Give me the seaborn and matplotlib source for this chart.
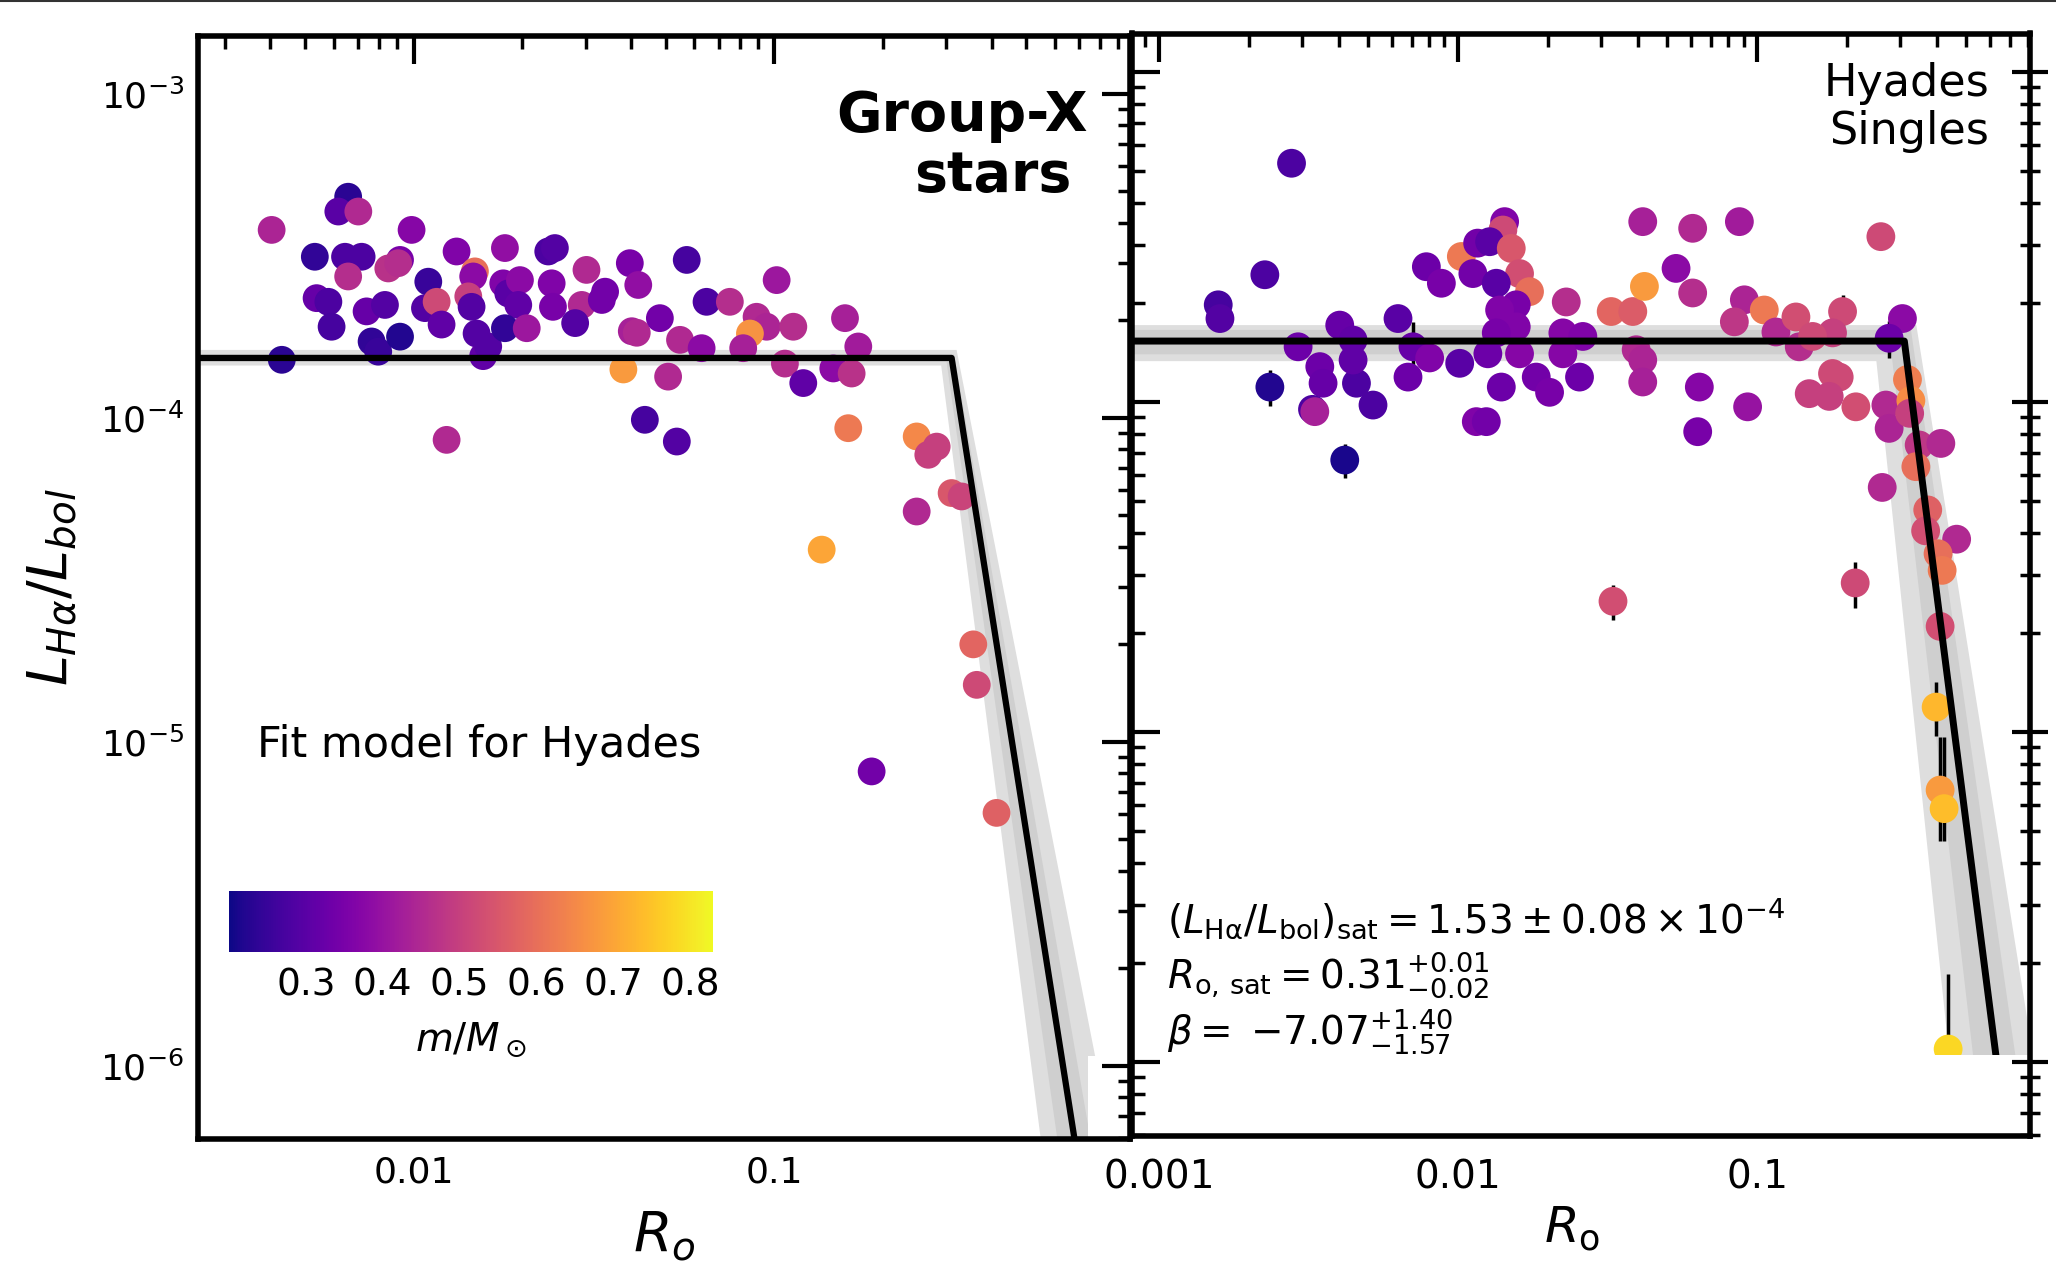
import numpy as np
import pandas as pd
import matplotlib
matplotlib.use("Agg")
import matplotlib.pyplot as plt
import seaborn as sns
from matplotlib.patches import Rectangle
from matplotlib.colors import Normalize
from matplotlib.cm import ScalarMappable
from matplotlib.ticker import LogLocator, NullFormatter, FixedLocator, FixedFormatter
from matplotlib.lines import Line2D

# ---------------- data: Group-X stars ----------------
ro_gx = [0.00403, 0.00657, 0.00617, 0.00701, 0.00985, 0.00531, 0.00644, 0.00716, 0.00657, 0.00915,
         0.00849, 0.00904, 0.00537, 0.00579, 0.00591, 0.00739, 0.00831, 0.00763, 0.00796, 0.00915,
         0.01096, 0.01073, 0.01156, 0.01193, 0.00430, 0.01313, 0.01476, 0.01460, 0.01415, 0.01445,
         0.01492, 0.01556, 0.01607, 0.01788, 0.01769, 0.01827, 0.01968, 0.01947, 0.01788, 0.02055,
         0.02358, 0.02460, 0.02410, 0.02430, 0.01232, 0.03010, 0.02920, 0.02800, 0.03390, 0.03320,
         0.03970, 0.04190, 0.04020, 0.04150, 0.04810, 0.05710, 0.05470, 0.06280, 0.06480, 0.07520,
         0.1014, 0.0892, 0.0951, 0.0855, 0.0819, 0.1128, 0.1569, 0.1708, 0.0381, 0.0507,
         0.1069, 0.1202, 0.1456, 0.1637, 0.0437, 0.0536, 0.1602, 0.248, 0.2818, 0.2671,
         0.310, 0.3305, 0.248, 0.1352, 0.356, 0.364, 0.186, 0.413]
lha_gx = [3.80e-4, 4.81e-4, 4.33e-4, 4.33e-4, 3.80e-4, 3.14e-4, 3.14e-4, 3.14e-4, 2.73e-4, 3.07e-4,
          2.89e-4, 3.00e-4, 2.34e-4, 2.28e-4, 1.91e-4, 2.13e-4, 2.23e-4, 1.72e-4, 1.60e-4, 1.78e-4,
          2.63e-4, 2.18e-4, 2.28e-4, 1.94e-4, 1.51e-4, 3.26e-4, 2.83e-4, 2.73e-4, 2.37e-4, 2.20e-4,
          1.82e-4, 1.55e-4, 1.66e-4, 3.34e-4, 2.60e-4, 2.42e-4, 2.66e-4, 2.23e-4, 1.89e-4, 1.89e-4,
          3.26e-4, 3.34e-4, 2.60e-4, 2.20e-4, 8.55e-5, 2.86e-4, 2.23e-4, 1.96e-4, 2.45e-4, 2.31e-4,
          3.00e-4, 2.57e-4, 1.85e-4, 1.83e-4, 2.03e-4, 3.07e-4, 1.74e-4, 1.64e-4, 2.28e-4, 2.28e-4,
          2.66e-4, 2.05e-4, 1.91e-4, 1.82e-4, 1.64e-4, 1.91e-4, 2.03e-4, 1.66e-4, 1.41e-4, 1.34e-4,
          1.47e-4, 1.28e-4, 1.42e-4, 1.37e-4, 9.86e-5, 8.45e-5, 9.29e-5, 8.76e-5, 8.15e-5, 7.69e-5,
          5.86e-5, 5.72e-5, 5.14e-5, 3.92e-5, 2.00e-5, 1.50e-5, 8.11e-6, 6.04e-6]
mass_gx = [0.44, 0.23, 0.30, 0.45, 0.37, 0.24, 0.28, 0.28, 0.46, 0.35,
           0.47, 0.46, 0.32, 0.28, 0.27, 0.32, 0.29, 0.24, 0.25, 0.22,
           0.25, 0.29, 0.52, 0.31, 0.23, 0.36, 0.60, 0.38, 0.50, 0.29,
           0.29, 0.31, 0.29, 0.39, 0.36, 0.30, 0.38, 0.31, 0.24, 0.41,
           0.28, 0.29, 0.36, 0.35, 0.45, 0.45, 0.45, 0.29, 0.34, 0.34,
           0.35, 0.39, 0.43, 0.45, 0.34, 0.27, 0.45, 0.38, 0.28, 0.46,
           0.41, 0.45, 0.44, 0.67, 0.43, 0.46, 0.43, 0.42, 0.68, 0.45,
           0.46, 0.31, 0.38, 0.47, 0.27, 0.29, 0.62, 0.65, 0.50, 0.50,
           0.55, 0.51, 0.45, 0.70, 0.58, 0.52, 0.34, 0.57]

# ---------------- data: Hyades singles ----------------
ro_hy = [0.002774, 0.002259, 0.001578, 0.001599, 0.002348, 0.002918, 0.004020, 0.004455, 0.003448, 0.003536,
         0.004572, 0.004455, 0.005193, 0.003260, 0.003318, 0.004178, 0.006295, 0.007064, 0.008031, 0.006798,
         0.01012, 0.007830, 0.008789, 0.01025, 0.01120, 0.01150, 0.01162, 0.01430, 0.01411, 0.01274,
         0.01505, 0.01604, 0.01732, 0.01341, 0.01564, 0.01376, 0.01564, 0.01341, 0.01604, 0.01257,
         0.01394, 0.01824, 0.02021, 0.01242, 0.02298, 0.02239, 0.02611, 0.02239, 0.02545, 0.03247,
         0.03835, 0.04194, 0.0414, 0.0608, 0.0871, 0.0535, 0.0608, 0.03936, 0.0414, 0.0414,
         0.0640, 0.0632, 0.0928, 0.0905, 0.0838, 0.1055, 0.1154, 0.2588, 0.1346, 0.1927,
         0.1784, 0.1381, 0.1530, 0.3055, 0.2758, 0.1784, 0.1878, 0.1491, 0.1739, 0.2135,
         0.2690, 0.2758, 0.3176, 0.326, 0.323, 0.3475, 0.4106, 0.3388, 0.2615, 0.3712,
         0.3652, 0.4637, 0.4019, 0.4147, 0.4083, 0.03293, 0.2124, 0.396, 0.4083, 0.421,
         0.4343]
lha_hy = [5.29e-4, 2.43e-4, 1.97e-4, 1.79e-4, 1.11e-4, 1.47e-4, 1.71e-4, 1.54e-4, 1.28e-4, 1.14e-4,
          1.14e-4, 1.34e-4, 9.79e-5, 9.50e-5, 9.35e-5, 6.67e-5, 1.79e-4, 1.47e-4, 1.36e-4, 1.19e-4,
          1.31e-4, 2.57e-4, 2.29e-4, 2.76e-4, 2.45e-4, 8.72e-5, 3.03e-4, 3.52e-4, 3.32e-4, 3.06e-4,
          2.92e-4, 2.45e-4, 2.16e-4, 2.29e-4, 1.97e-4, 1.90e-4, 1.69e-4, 1.62e-4, 1.40e-4, 1.40e-4,
          1.11e-4, 1.19e-4, 1.07e-4, 8.72e-5, 2.01e-4, 1.62e-4, 1.58e-4, 1.40e-4, 1.19e-4, 1.88e-4,
          1.88e-4, 2.24e-4, 3.52e-4, 3.36e-4, 3.52e-4, 2.54e-4, 2.14e-4, 1.44e-4, 1.34e-4, 1.15e-4,
          1.11e-4, 8.13e-5, 9.67e-5, 2.04e-4, 1.75e-4, 1.90e-4, 1.63e-4, 3.17e-4, 1.81e-4, 1.88e-4,
          1.62e-4, 1.47e-4, 1.58e-4, 1.79e-4, 1.56e-4, 1.22e-4, 1.19e-4, 1.06e-4, 1.04e-4, 9.67e-5,
          9.79e-5, 8.32e-5, 1.17e-4, 1.01e-4, 9.24e-5, 7.41e-5, 7.49e-5, 6.37e-5, 5.51e-5, 4.71e-5,
          4.07e-5, 3.84e-5, 3.47e-5, 3.09e-5, 2.09e-5, 2.49e-5, 2.83e-5, 1.19e-5, 6.67e-6, 5.86e-6,
          1.095e-6]
mass_hy = [0.28, 0.28, 0.27, 0.29, 0.22, 0.33, 0.32, 0.31, 0.33, 0.32,
           0.28, 0.31, 0.28, 0.28, 0.43, 0.21, 0.30, 0.32, 0.36, 0.33,
           0.30, 0.33, 0.35, 0.62, 0.34, 0.36, 0.34, 0.36, 0.52, 0.30,
           0.55, 0.53, 0.60, 0.30, 0.35, 0.36, 0.36, 0.35, 0.37, 0.33,
           0.33, 0.34, 0.35, 0.34, 0.46, 0.37, 0.36, 0.37, 0.33, 0.58,
           0.56, 0.68, 0.43, 0.45, 0.42, 0.38, 0.46, 0.45, 0.44, 0.43,
           0.37, 0.35, 0.40, 0.44, 0.48, 0.62, 0.45, 0.52, 0.53, 0.52,
           0.50, 0.46, 0.52, 0.38, 0.33, 0.52, 0.52, 0.50, 0.50, 0.53,
           0.45, 0.44, 0.63, 0.66, 0.50, 0.48, 0.45, 0.60, 0.45, 0.57,
           0.53, 0.45, 0.60, 0.62, 0.53, 0.53, 0.52, 0.73, 0.68, 0.74,
           0.78]

# Hyades stars with visible uncertainties (index into the arrays above)
err_idx = [4, 15, 17, 69, 74, 95, 96, 97, 98, 99, 100]
err_lo = [1.4e-5, 8.0e-6, 2.8e-5, 2.3e-5, 2.0e-5, 3.0e-6, 4.5e-6, 2.2e-6, 2.0e-6, 1.2e-6, 0.5e-6]
err_hi = [1.4e-5, 8.0e-6, 2.8e-5, 2.3e-5, 2.0e-5, 3.0e-6, 4.5e-6, 2.3e-6, 3.0e-6, 3.8e-6, 0.75e-6]

# ---------------- saturated / unsaturated fit ----------------
LHA_SAT = 1.53e-4
LHA_SAT_ERR = 0.08e-4
RO_SAT, RO_SAT_UP, RO_SAT_LO = 0.31, 0.01, 0.02
BETA, BETA_UP, BETA_LO = -7.07, 1.40, 1.57


def broken_power(ro, sat, ro_sat, beta):
    return np.where(ro < ro_sat, sat, sat * (ro / ro_sat) ** beta)


def envelope(ro, sats, ro_sats, betas):
    curves = [broken_power(ro, s, r, b) for s in sats for r in ro_sats for b in betas]
    return np.min(curves, axis=0), np.max(curves, axis=0)


sns.set_style("white", rc={"axes.edgecolor": "black", "text.color": "black",
                           "axes.labelcolor": "black", "xtick.color": "black",
                           "ytick.color": "black"})
plt.rcParams["font.family"] = ["DejaVu Sans"]
plt.rcParams["mathtext.fontset"] = "dejavusans"

W, H = 2056, 1286
fig = plt.figure(figsize=(W / 100, H / 100), dpi=100)
fig.patch.set_facecolor("white")

axL = fig.add_axes([198 / W, 1 - 1139 / H, (1130 - 198) / W, (1139 - 35.7) / H])
axR = fig.add_axes([1132 / W, 1 - 1136 / H, (2030 - 1132) / W, (1136 - 33.5) / H])

norm = Normalize(vmin=0.20, vmax=0.83)

limsL = dict(x=(0.002518, 0.9686), y=(5.955e-7, 1.51e-3))
limsR = dict(x=(8.126e-4, 0.8155), y=(5.97e-7, 1.308e-3))

bandL = dict(outer=((1.45e-4, 1.62e-4), (0.29, 0.32), (BETA - BETA_LO, BETA + BETA_UP)),
             inner=((1.49e-4, 1.57e-4), (0.30, 0.315), (-7.8, -6.4)))
bandR = dict(outer=((1.33e-4, 1.71e-4), (0.25, 0.34), (BETA - BETA_LO, BETA + BETA_UP)),
             inner=((1.40e-4, 1.66e-4), (0.28, 0.325), (-7.8, -6.3)))

panels = [
    (axL, ro_gx, lha_gx, mass_gx, limsL, bandL, 400, 4.5),
    (axR, ro_hy, lha_hy, mass_hy, limsR, bandR, 430, 5.0),
]


def style_log_ticks(ax):
    ax.xaxis.set_minor_locator(LogLocator(base=10, subs=np.arange(2, 10), numticks=100))
    ax.yaxis.set_minor_locator(LogLocator(base=10, subs=np.arange(2, 10), numticks=100))
    ax.xaxis.set_minor_formatter(NullFormatter())
    ax.yaxis.set_minor_formatter(NullFormatter())


for ax, ro, lha, mass, lims, band, size, lw in panels:
    ax.set_xscale("log")
    ax.set_yscale("log")
    grid = np.unique(np.concatenate([np.geomspace(lims["x"][0], lims["x"][1], 800),
                                     [RO_SAT] + list(band["outer"][1]) + list(band["inner"][1])]))
    lo, hi = envelope(grid, *band["outer"])
    ax.fill_between(grid, lo, hi, color="#dedede", lw=0, zorder=1)
    lo, hi = envelope(grid, *band["inner"])
    ax.fill_between(grid, lo, hi, color="#cfcfcf", lw=0, zorder=1.1)

    df = pd.DataFrame({"ro": ro, "lha": lha, "mass": mass})
    sns.scatterplot(data=df, x="ro", y="lha", hue="mass", palette="plasma",
                    hue_norm=norm, s=size, linewidth=0, edgecolor="none",
                    legend=False, ax=ax, zorder=3)
    ax.plot(grid, broken_power(grid, LHA_SAT, RO_SAT, BETA), color="black", lw=lw, zorder=4)

    ax.set_xlim(*lims["x"])
    ax.set_ylim(*lims["y"])
    ax.set_xlabel("")
    ax.set_ylabel("")

    ax.tick_params(which="both", direction="in", top=True, right=True)
    ax.tick_params(which="major", length=20, width=3)
    ax.tick_params(which="minor", length=9, width=2.5)
    for sp in ax.spines.values():
        sp.set_linewidth(4)
        sp.set_color("black")
        sp.set_zorder(6)
    ax.xaxis.set_zorder(6)
    ax.yaxis.set_zorder(6)

# error bars of the Hyades sample
axR.errorbar([ro_hy[i] for i in err_idx], [lha_hy[i] for i in err_idx],
             yerr=[err_lo, err_hi], fmt="none", ecolor="black", elinewidth=2.5,
             capsize=0, zorder=2)

# ---- left panel axes ----
axL.xaxis.set_major_locator(FixedLocator([0.01, 0.1]))
axL.xaxis.set_major_formatter(FixedFormatter(["0.01", "0.1"]))
axL.yaxis.set_major_locator(FixedLocator([1e-6, 1e-5, 1e-4, 1e-3]))
axL.yaxis.set_major_formatter(FixedFormatter([r"$10^{-6}$", r"$10^{-5}$", r"$10^{-4}$", r"$10^{-3}$"]))
style_log_ticks(axL)
axL.tick_params(axis="x", which="major", labelsize=26, pad=12)
axL.tick_params(axis="y", which="major", labelsize=26, pad=10)
axL.set_xlabel(r"$R_o$", fontsize=40)
axL.xaxis.set_label_coords(0.5, -0.063)
axL.set_ylabel(r"$L_{H\alpha}/L_{bol}$", fontsize=40)
axL.yaxis.set_label_coords(-0.128, 0.5)

axL.text(0.955, 0.9136, "Group-X", transform=axL.transAxes, ha="right", va="baseline",
         fontsize=40, fontweight="bold", zorder=7)
axL.text(0.9367, 0.8588, "stars", transform=axL.transAxes, ha="right", va="baseline",
         fontsize=40, fontweight="bold", zorder=7)
axL.text(0.0633, 0.3466, "Fit model for Hyades", transform=axL.transAxes, ha="left",
         va="baseline", fontsize=31, zorder=7)

# colour bar inside the left panel
cax = axL.inset_axes([0.0333, 0.1695, 0.5193, 0.0553])
sm = ScalarMappable(norm=norm, cmap="plasma")
cb = fig.colorbar(sm, cax=cax, orientation="horizontal")
cb.outline.set_visible(False)
cb.set_ticks([0.3, 0.4, 0.5, 0.6, 0.7, 0.8])
cb.set_ticklabels(["0.3", "0.4", "0.5", "0.6", "0.7", "0.8"])
cax.xaxis.set_ticks_position("bottom")
cax.tick_params(axis="x", direction="in", length=9, width=3, labelsize=27, pad=11, color="black")
cb.set_label(r"$m/M_\odot$", fontsize=28, labelpad=12)

# ---- right panel axes ----
axR.xaxis.set_major_locator(FixedLocator([0.001, 0.01, 0.1]))
axR.xaxis.set_major_formatter(FixedFormatter(["0.001", "0.01", "0.1"]))
axR.yaxis.set_major_locator(FixedLocator([1e-6, 1e-5, 1e-4, 1e-3]))
style_log_ticks(axR)
axR.tick_params(axis="x", which="major", labelsize=28, pad=16)
axR.tick_params(axis="y", labelleft=False)
axR.set_xlabel(r"$R_{\rm o}$", fontsize=36)
axR.xaxis.set_label_coords(0.49, -0.062)

# right-hand ticks of the Hyades panel cross the frame
axT = axR.twinx()
axT.set_yscale("log")
axT.set_ylim(*limsR["y"])
axT.yaxis.set_major_locator(FixedLocator([1e-6, 1e-5, 1e-4, 1e-3]))
axT.yaxis.set_minor_locator(LogLocator(base=10, subs=np.arange(2, 10), numticks=100))
axT.yaxis.set_minor_formatter(NullFormatter())
axT.tick_params(axis="y", which="both", direction="inout", labelright=False)
axT.tick_params(axis="y", which="major", length=26, width=3)
axT.tick_params(axis="y", which="minor", length=14, width=2.5)
for side in ("left", "top", "bottom", "right"):
    axT.spines[side].set_visible(False)
axR.tick_params(axis="y", which="both", left=True, right=False)

axR.text(0.9544, 0.9745, "Hyades\nSingles", transform=axR.transAxes, ha="right", va="top",
         multialignment="right", fontsize=32, linespacing=1.15, zorder=7)

fit_lines = [
    (0.1846, r"$(L_{\rm H\alpha}/L_{\rm bol})_{\rm sat} = %.2f \pm %.2f \times 10^{-4}$"
     % (LHA_SAT * 1e4, LHA_SAT_ERR * 1e4)),
    (0.1351, r"$R_{\rm o,\,sat} = %.2f^{+%.2f}_{-%.2f}$" % (RO_SAT, RO_SAT_UP, RO_SAT_LO)),
    (0.0830, r"$\beta =\;{-}%.2f^{+%.2f}_{-%.2f}$" % (abs(BETA), BETA_UP, BETA_LO)),
]
for ypos, txt in fit_lines:
    axR.text(0.039, ypos, txt, transform=axR.transAxes, ha="left", va="baseline",
             fontsize=28, zorder=7)

# blank strips along the bottom edge of each panel
axL.add_patch(Rectangle((0.955, 0), 0.045, 0.075, transform=axL.transAxes,
                        facecolor="white", edgecolor="none", zorder=5))
axR.add_patch(Rectangle((0, 0), 1, 0.0735, transform=axR.transAxes,
                        facecolor="white", edgecolor="none", zorder=5))

# thin rule along the top of the figure
fig.add_artist(Line2D([0, 1], [1 - 1.0 / H, 1 - 1.0 / H], color="#333333", lw=1.5))

fig.savefig("out.png", dpi=100, facecolor="white")
